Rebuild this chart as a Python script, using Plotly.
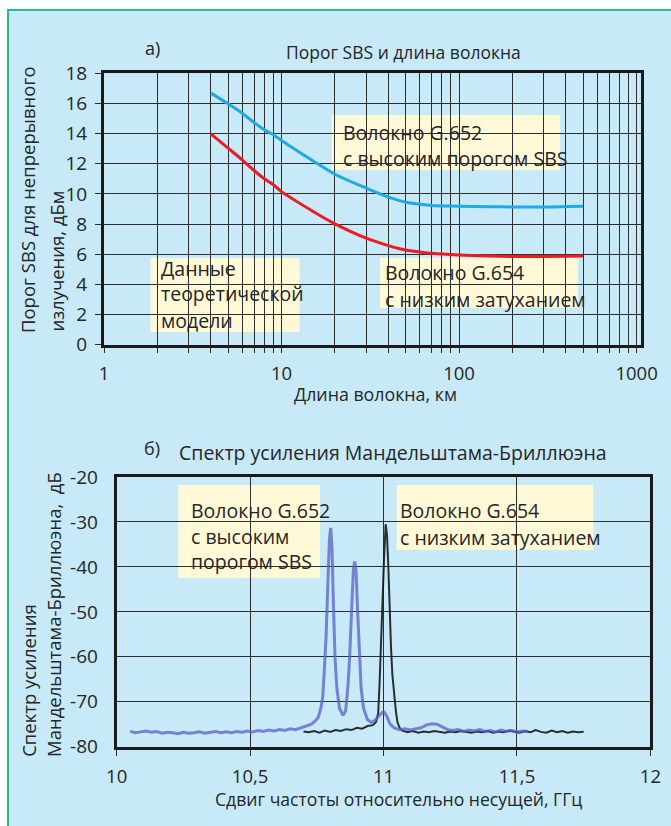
import plotly.graph_objects as go

W, H = 671, 826

# ---------- data: chart a) SBS threshold vs fibre length ----------
length_km = [4, 5, 6, 7, 8, 9, 10, 15, 20, 30, 40, 50, 60, 70, 100, 150, 200, 300, 500]
g652_dbm = [16.68, 15.97, 15.35, 14.73, 14.25, 13.92, 13.54, 12.2, 11.3, 10.38, 9.78, 9.45, 9.32, 9.23, 9.18, 9.15, 9.13, 9.13, 9.18]
g654_dbm = [13.98, 13.03, 12.26, 11.55, 11.0, 10.6, 10.15, 8.85, 8.01, 7.06, 6.57, 6.28, 6.15, 6.06, 5.95, 5.88, 5.85, 5.85, 5.88]

x_major_a = [1, 10, 100, 1000]
x_major_a_text = ["1", "10", "100", "1000"]
x_minor_a = [2, 3, 4, 5, 6, 7, 8, 9, 20, 30, 40, 50, 60, 70, 80, 90,
             200, 300, 400, 500, 600, 700, 800, 900]
y_ticks_a = [0, 2, 4, 6, 8, 10, 12, 14, 16, 18]

# ---------- data: chart b) Brillouin gain spectrum ----------
g652_ghz = [10.05, 10.07, 10.09, 10.11, 10.13, 10.15, 10.17, 10.19, 10.21, 10.23,
            10.25, 10.27, 10.29, 10.31, 10.33, 10.35, 10.37, 10.39, 10.41, 10.43,
            10.45, 10.47, 10.49, 10.51, 10.53, 10.55, 10.57, 10.59, 10.61, 10.63,
            10.65, 10.67, 10.69, 10.71, 10.73, 10.745, 10.755, 10.765, 10.772, 10.778,
            10.785, 10.79, 10.797, 10.802, 10.807, 10.812, 10.818, 10.825, 10.835, 10.848,
            10.858, 10.866, 10.873, 10.88, 10.887, 10.892, 10.897, 10.903, 10.909, 10.916,
            10.925, 10.94, 10.955, 10.97, 10.985, 10.995, 11.003, 11.012, 11.025, 11.04,
            11.06, 11.08, 11.10, 11.12, 11.14, 11.16, 11.18, 11.20, 11.22, 11.24,
            11.26, 11.28, 11.30, 11.32, 11.34, 11.36, 11.38, 11.40, 11.42, 11.44,
            11.46, 11.48, 11.50, 11.52, 11.54]
g652_db = [-76.6, -76.9, -76.7, -76.5, -76.8, -76.6, -77.0, -76.8, -76.9, -77.1,
           -76.8, -77.0, -76.9, -76.7, -77.0, -76.8, -76.6, -76.9, -76.7, -76.9,
           -76.6, -76.8, -76.5, -76.7, -76.4, -76.6, -76.3, -76.5, -76.2, -76.4,
           -76.0, -76.2, -75.8, -75.5, -75.0, -74.2, -73.5, -71.5, -69.0, -63.0,
           -55.0, -46.0, -34.0, -31.3, -36.0, -48.0, -60.0, -67.0, -71.5, -73.0,
           -72.0, -67.0, -60.0, -50.0, -40.5, -38.8, -41.0, -50.0, -60.0, -67.0,
           -71.5, -74.0, -74.6, -74.0, -73.0, -72.4, -72.3, -73.2, -75.0, -75.8,
           -76.2, -76.0, -76.3, -76.0, -75.8, -75.2, -74.9, -75.0, -75.6, -76.2,
           -76.4, -76.2, -76.6, -76.3, -76.5, -76.2, -76.6, -76.4, -76.7, -76.3,
           -76.6, -76.4, -76.7, -76.5, -76.6]

g654_ghz = [10.70, 10.72, 10.74, 10.76, 10.78, 10.80, 10.82, 10.84, 10.86, 10.88,
            10.90, 10.92, 10.94, 10.96, 10.972, 10.98, 10.985, 10.99, 10.996, 11.002,
            11.008, 11.013, 11.018, 11.023, 11.028, 11.033, 11.038, 11.042, 11.046, 11.052,
            11.06, 11.07, 11.09, 11.11, 11.13, 11.15, 11.17, 11.19, 11.21, 11.23,
            11.25, 11.27, 11.29, 11.31, 11.33, 11.35, 11.37, 11.39, 11.41, 11.43,
            11.45, 11.47, 11.49, 11.51, 11.53, 11.55, 11.57, 11.59, 11.61, 11.63,
            11.65, 11.67, 11.69, 11.71, 11.73, 11.75]
g654_db = [-76.6, -76.8, -76.5, -76.9, -76.4, -76.7, -76.3, -76.5, -76.1, -76.3,
           -75.8, -76.0, -75.4, -75.2, -74.5, -72.5, -66.0, -57.0, -48.0, -38.0,
           -30.5, -33.0, -40.0, -50.0, -58.0, -64.0, -67.5, -69.0, -72.0, -74.5,
           -75.8, -76.4, -76.8, -76.5, -76.9, -76.6, -76.8, -76.5, -76.7, -76.9,
           -76.6, -76.8, -76.5, -76.7, -76.9, -76.6, -76.8, -76.5, -76.9, -76.6,
           -76.8, -76.4, -76.7, -76.9, -76.5, -76.8, -76.3, -76.7, -76.9, -76.4,
           -76.8, -76.5, -76.9, -76.6, -76.8, -76.7]

x_ticks_b = [10, 10.5, 11, 11.5, 12]
x_ticks_b_text = ["10", "10,5", "11", "11,5", "12"]
y_ticks_b = [-80, -70, -60, -50, -40, -30, -20]
y_ticks_b_text = ["-80", "-70", "-60", "-50", "-40", "-30", "-20"]

# ---------- styling ----------
FONT = "Open Sans, Noto Sans, DejaVu Sans, sans-serif"
TXT = "#262626"
PANEL = "#C7E9F8"
GREEN = "#22BE86"
PLOTBG = "#FFF9D8"
GRID = "#2E2E2E"


def px(x):
    return x / W


def py(y):
    return 1 - y / H


fig = go.Figure()

fig.add_trace(go.Scatter(x=length_km, y=g652_dbm, mode="lines", line=dict(color="#1FAAE6", width=3, shape="spline"),
                         xaxis="x", yaxis="y", showlegend=False))
fig.add_trace(go.Scatter(x=length_km, y=g654_dbm, mode="lines", line=dict(color="#EC1C24", width=3, shape="spline"),
                         xaxis="x", yaxis="y", showlegend=False))
fig.add_trace(go.Scatter(x=g654_ghz, y=g654_db, mode="lines", line=dict(color="rgba(25,25,25,0.9)", width=2),
                         xaxis="x2", yaxis="y2", showlegend=False))
fig.add_trace(go.Scatter(x=g652_ghz, y=g652_db, mode="lines", line=dict(color="rgba(90,95,200,0.75)", width=3),
                         xaxis="x2", yaxis="y2", showlegend=False))

axis_common = dict(showline=True, mirror=True, linewidth=3, linecolor="#1a1a1a", zeroline=False,
                   automargin=False,
                   gridcolor=GRID, gridwidth=1)

fig.update_layout(
    width=W, height=H, margin=dict(l=0, r=0, t=0, b=0, pad=0, autoexpand=False),
    paper_bgcolor="white", plot_bgcolor=PLOTBG,
    xaxis=dict(type="log", range=[0, 3.025], domain=[px(104), px(641)], anchor="y",
               tickmode="array", tickvals=x_major_a, ticktext=x_major_a_text,
               ticks="outside", ticklen=5, tickcolor=GRID, showgrid=True,
               minor=dict(tickmode="array", tickvals=x_minor_a, showgrid=True, gridcolor=GRID, gridwidth=1,
                          ticks="outside", ticklen=5, tickcolor=GRID),
               ticklabelstandoff=5, tickfont=dict(family=FONT, size=18.5, color=TXT), **axis_common),
    yaxis=dict(range=[0, 18], domain=[py(344.7), py(73.2)], anchor="x",
               tickmode="array", tickvals=y_ticks_a, ticks="outside", ticklen=6, tickcolor=GRID,
               showgrid=True, ticklabelstandoff=4, tickfont=dict(family=FONT, size=19, color=TXT), **axis_common),
    xaxis2=dict(range=[10, 12], domain=[px(116.7), px(650.4)], anchor="y2",
                tickmode="array", tickvals=x_ticks_b, ticktext=x_ticks_b_text,
                ticks="outside", ticklen=6, tickcolor=GRID, showgrid=True, ticklabelstandoff=5,
                tickfont=dict(family=FONT, size=18.5, color=TXT), **axis_common),
    yaxis2=dict(range=[-80, -20], domain=[py(746.7), py(477)], anchor="x2",
                tickmode="array", tickvals=y_ticks_b, ticktext=y_ticks_b_text,
                ticks="outside", ticklen=6, tickcolor="rgba(0,0,0,0)", showgrid=True, ticklabelstandoff=6,
                tickfont=dict(family=FONT, size=19, color=TXT), **axis_common),
)

shapes = []
# light-blue panel with green frame
shapes.append(dict(type="rect", xref="paper", yref="paper", x0=px(8), x1=1.02, y0=-0.02, y1=py(10),
                   fillcolor=PANEL, line=dict(color=GREEN, width=2), layer="below"))
# text boxes that hide the grid (pixel boxes converted to paper)
for (x0, x1, y0, y1) in [(331.7, 560, 115, 170), (150.6, 299.5, 258, 332), (380, 578, 258, 308),
                         (178.3, 320, 485, 578), (396.7, 593.3, 485, 550)]:
    shapes.append(dict(type="rect", xref="paper", yref="paper", x0=px(x0), x1=px(x1), y0=py(y1), y1=py(y0),
                       fillcolor=PLOTBG, line=dict(width=0), layer="between"))
fig.update_layout(shapes=shapes)

ann = []


def text(x, y, s, size, xanchor="left", angle=0):
    ann.append(dict(x=px(x), y=py(y), xref="paper", yref="paper", text=s, showarrow=False,
                    xanchor=xanchor, yanchor="middle", textangle=angle,
                    font=dict(family=FONT, size=size, color=TXT)))


# chart a)
text(152, 48, "а)", 18, "center")
text(403, 52, "Порог SBS и длина волокна", 17.5, "center")
text(375, 394, "Длина волокна, км", 17.8, "center")
text(28, 200, "Порог SBS для непрерывного", 18.5, "center", -90)
text(55.6, 261, "излучения, дБм", 18.5, "center", -90)
text(340.5, 132.7, "Волокно G.652", 19.5)
text(340.5, 158.3, "с высоким порогом SBS", 19.5)
text(159, 268, "Данные", 19.5)
text(159, 294, "теоретической", 19.5)
text(159, 320, "модели", 19.5)
text(383.3, 272.7, "Волокно G.654", 19.5)
text(383.3, 299.3, "с низким затуханием", 19.5)

# chart b)
text(152, 448, "б)", 18, "center")
text(392.6, 453, "Спектр усиления Мандельштама-Бриллюэна", 19.5, "center")
text(398, 799, "Сдвиг частоты относительно несущей, ГГц", 17.6, "center")
text(27.8, 681, "Спектр усиления", 18.5, "center", -90)
text(53.5, 614.5, "Мандельштама-Бриллюэна,  дБ", 18.5, "center", -90)
text(189.3, 510, "Волокно G.652", 19.5)
text(189.3, 536, "с высоким", 19.5)
text(189.3, 561.7, "порогом SBS", 19.5)
text(398.3, 510.7, "Волокно G.654", 19.5)
text(398.3, 537.3, "с низким затуханием", 19.5)

fig.update_layout(annotations=ann)

fig.write_html("out.html", config={"displayModeBar": False},
               post_script="document.body.style.margin='0';document.body.style.overflow='hidden';")
